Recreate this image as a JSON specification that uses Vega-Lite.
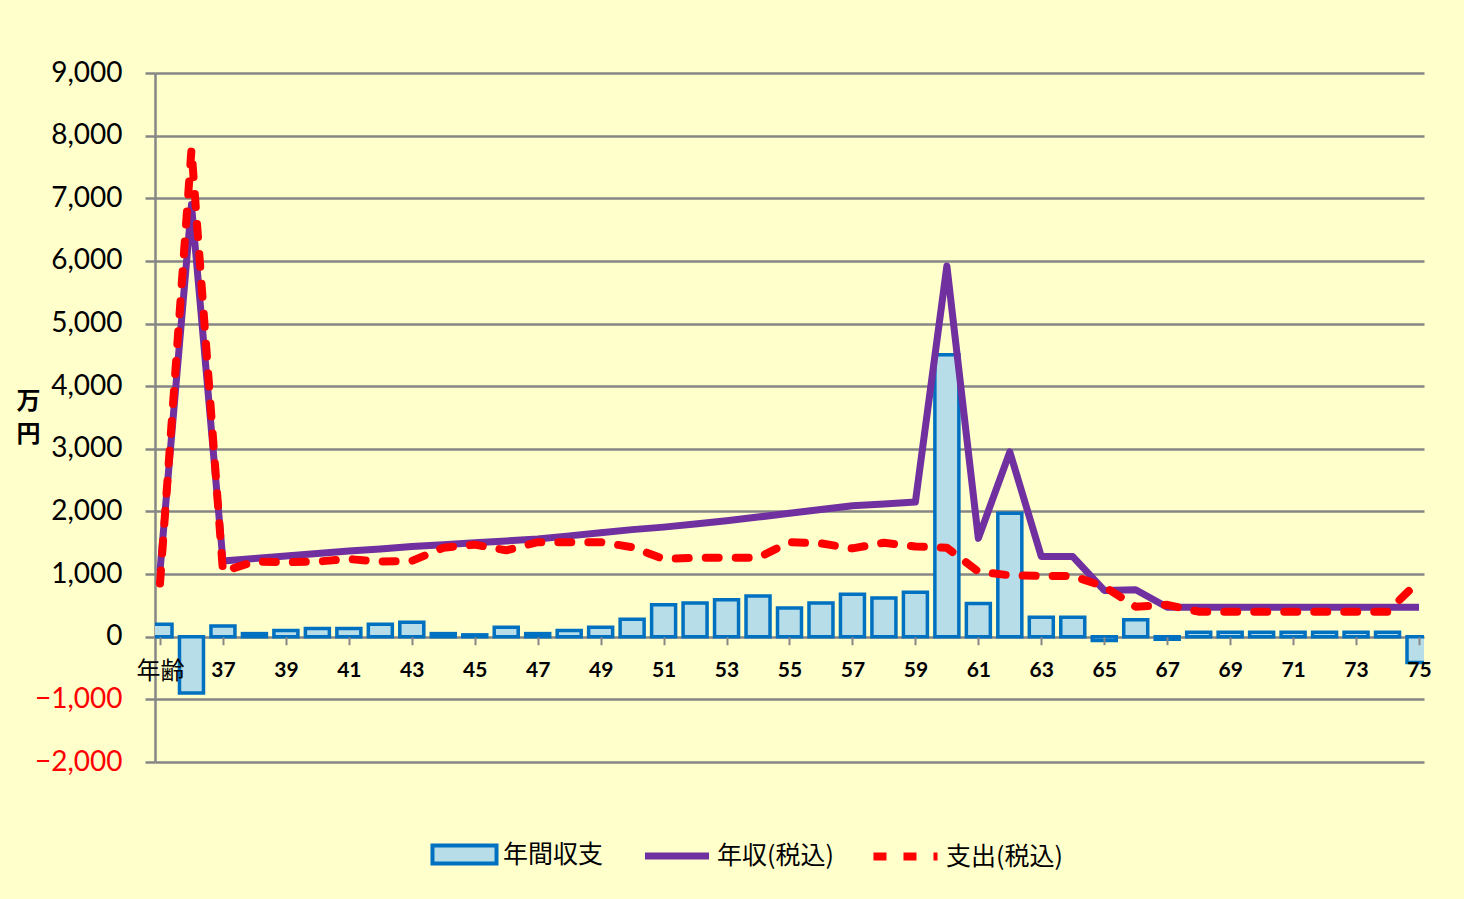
{
  "$schema": "https://vega.github.io/schema/vega-lite/v6.json",
  "width": 1269,
  "height": 689,
  "autosize": "none",
  "padding": {"left": 155, "top": 73, "right": 40, "bottom": 137},
  "background": "#FFFFCC",
  "config": {
    "view": {"stroke": null},
    "font": "Lato",
    "legend": {
      "title": null,
      "orient": "none",
      "direction": "horizontal",
      "symbolSize": 4100,
      "labelFont": "Noto Sans CJK JP",
      "labelFontSize": 25,
      "labelColor": "#000000",
      "labelOffset": 4,
      "symbolOpacity": 1
    }
  },
  "data": {
    "values": [
      {"age": 35, "balance": 200, "income": 1050, "expense": 850},
      {"age": 36, "balance": -900, "income": 6900, "expense": 7780},
      {"age": 37, "balance": 170, "income": 1210, "expense": 1040},
      {"age": 38, "balance": 50, "income": 1250, "expense": 1200},
      {"age": 39, "balance": 100, "income": 1290, "expense": 1190},
      {"age": 40, "balance": 130, "income": 1330, "expense": 1200},
      {"age": 41, "balance": 130, "income": 1370, "expense": 1240},
      {"age": 42, "balance": 200, "income": 1400, "expense": 1200},
      {"age": 43, "balance": 230, "income": 1440, "expense": 1210},
      {"age": 44, "balance": 50, "income": 1470, "expense": 1420},
      {"age": 45, "balance": 30, "income": 1500, "expense": 1470},
      {"age": 46, "balance": 150, "income": 1530, "expense": 1380},
      {"age": 47, "balance": 50, "income": 1560, "expense": 1510},
      {"age": 48, "balance": 100, "income": 1610, "expense": 1510},
      {"age": 49, "balance": 150, "income": 1660, "expense": 1510},
      {"age": 50, "balance": 280, "income": 1710, "expense": 1430},
      {"age": 51, "balance": 510, "income": 1750, "expense": 1240},
      {"age": 52, "balance": 540, "income": 1800, "expense": 1260},
      {"age": 53, "balance": 590, "income": 1850, "expense": 1260},
      {"age": 54, "balance": 650, "income": 1910, "expense": 1260},
      {"age": 55, "balance": 460, "income": 1970, "expense": 1510},
      {"age": 56, "balance": 540, "income": 2030, "expense": 1490},
      {"age": 57, "balance": 680, "income": 2090, "expense": 1410},
      {"age": 58, "balance": 620, "income": 2120, "expense": 1500},
      {"age": 59, "balance": 710, "income": 2150, "expense": 1440},
      {"age": 60, "balance": 4500, "income": 5920, "expense": 1420},
      {"age": 61, "balance": 530, "income": 1570, "expense": 1040},
      {"age": 62, "balance": 1970, "income": 2950, "expense": 980},
      {"age": 63, "balance": 310, "income": 1280, "expense": 970},
      {"age": 64, "balance": 310, "income": 1280, "expense": 970},
      {"age": 65, "balance": -60, "income": 740, "expense": 800},
      {"age": 66, "balance": 270, "income": 750, "expense": 480},
      {"age": 67, "balance": -40, "income": 470, "expense": 510},
      {"age": 68, "balance": 70, "income": 470, "expense": 400},
      {"age": 69, "balance": 70, "income": 470, "expense": 400},
      {"age": 70, "balance": 70, "income": 470, "expense": 400},
      {"age": 71, "balance": 70, "income": 470, "expense": 400},
      {"age": 72, "balance": 70, "income": 470, "expense": 400},
      {"age": 73, "balance": 70, "income": 470, "expense": 400},
      {"age": 74, "balance": 70, "income": 470, "expense": 400},
      {"age": 75, "balance": -410, "income": 470, "expense": 890}
    ]
  },
  "layer": [
    {
      "mark": {"type": "bar", "width": 24, "stroke": "#0070C0", "strokeWidth": 3.5, "clip": true},
      "encoding": {
        "x": {
          "field": "age",
          "type": "quantitative",
          "scale": {"domain": [35, 75], "nice": false, "zero": false},
          "axis": {
            "title": null,
            "values": [35, 37, 39, 41, 43, 45, 47, 49, 51, 53, 55, 57, 59, 61, 63, 65, 67, 69, 71, 73, 75],
            "offset": -125.3,
            "domain": false,
            "grid": false,
            "tickSize": 8,
            "tickColor": "#868686",
            "tickWidth": 2,
            "labelExpr": "datum.value == 35 ? '年齢' : datum.label",
            "labelFont": {"condition": {"test": "datum.value == 35", "value": "Noto Sans CJK JP"}, "value": "Lato"},
            "labelFontWeight": {"condition": {"test": "datum.value == 35", "value": "normal"}, "value": "bold"},
            "labelFontSize": {"condition": {"test": "datum.value == 35", "value": 24}, "value": 21},
            "labelPadding": 15,
            "labelColor": "#000000",
            "labelFlush": false,
            "labelOverlap": false,
            "zindex": 1
          }
        },
        "y": {
          "field": "balance",
          "type": "quantitative",
          "scale": {"domain": [-2000, 9000], "nice": false, "zero": false},
          "axis": {
            "title": ["万", "円"],
            "titleAngle": 0,
            "titleX": -127,
            "titleY": 316,
            "titleAlign": "center",
            "titleBaseline": "top",
            "titleFont": "Noto Sans CJK JP",
            "titleFontSize": 24,
            "titleFontWeight": "bold",
            "titleLineHeight": 33,
            "titleColor": "#000000",
            "values": [-2000, -1000, 0, 1000, 2000, 3000, 4000, 5000, 6000, 7000, 8000, 9000],
            "format": ",.0f",
            "labelFont": "Lato",
            "labelFontSize": 28,
            "labelColor": {"condition": {"test": "datum.value < 0", "value": "#FF0000"}, "value": "#000000"},
            "labelPadding": 23,
            "tickSize": 10,
            "tickColor": "#868686",
            "tickWidth": 2.5,
            "domainColor": "#868686",
            "domainWidth": 2.5,
            "grid": true,
            "gridColor": "#868686",
            "gridWidth": 2.5
          }
        },
        "fill": {
          "datum": "年間収支",
          "type": "nominal",
          "scale": {"domain": ["年間収支"], "range": ["#B7DEE8"]},
          "legend": {
            "legendX": 275,
            "legendY": 747,
            "symbolType": "M-1,-0.28H1V0.28H-1Z",
            "symbolStrokeColor": "#0070C0",
            "symbolStrokeWidth": 4,
            "symbolFillColor": "#B7DEE8"
          }
        }
      }
    },
    {
      "mark": {"type": "line", "strokeWidth": 7, "strokeJoin": "round"},
      "encoding": {
        "x": {"field": "age", "type": "quantitative"},
        "y": {"field": "income", "type": "quantitative"},
        "stroke": {
          "datum": "年収(税込)",
          "type": "nominal",
          "scale": {"domain": ["年収(税込)"], "range": ["#7030A0"]},
          "legend": {
            "legendX": 486,
            "legendY": 747,
            "symbolType": "stroke",
            "symbolStrokeWidth": 7
          }
        }
      }
    },
    {
      "mark": {"type": "line", "stroke": "#FF0000", "strokeWidth": 8, "strokeCap": "round", "strokeJoin": "round"},
      "encoding": {
        "x": {"field": "age", "type": "quantitative"},
        "y": {"field": "expense", "type": "quantitative"},
        "strokeDash": {
          "datum": "支出(税込)",
          "type": "nominal",
          "scale": {"domain": ["支出(税込)"], "range": [[13, 17]]},
          "legend": {
            "legendX": 714,
            "legendY": 747,
            "symbolType": "stroke",
            "symbolStrokeWidth": 8,
            "symbolStrokeColor": "#FF0000",
            "symbolDash": [21, 9]
          }
        }
      }
    }
  ]
}
